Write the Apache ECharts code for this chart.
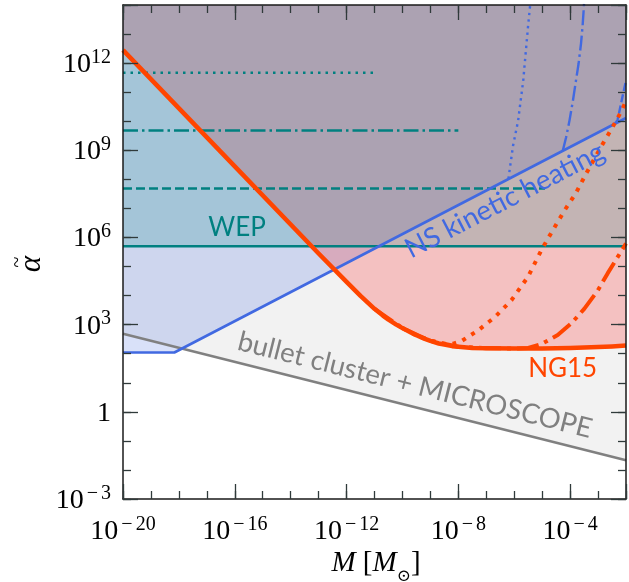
<!DOCTYPE html>
<html>
<head>
<meta charset="utf-8">
<script src="https://cdn.jsdelivr.net/npm/echarts@6/dist/echarts.min.js"></script>
<style>
  html, body { margin: 0; padding: 0; background: #fff; }
  #chart { width: 629px; height: 582px; }
</style>
</head>
<body>
<div id="chart"></div>
<script>
// Axis extents (solar masses, alpha-tilde)
const massRange = [1e-20, 1e-2];
const alphaRange = [1e-3, 1e14];

// Bullet cluster + MICROSCOPE bound
const bulletM = [1e-20, 1e-2];
const bulletA = [490, 0.0214];

// Neutron-star kinetic heating bound
const nsM = [1e-20, 6.9e-19, 1e-2];
const nsA = [110, 110, 1.29e10];
// NS heating variants (branching off the main bound)
const nsDotM = [6.2e-7, 9.1e-7, 1.38e-6, 2.1e-6, 3.1e-6, 3.7e-6, 4.0e-6];
const nsDotA = [1.05e8, 1.45e9, 1.05e10, 2.5e11, 1.7e13, 9.5e13, 2e14];
const nsDashDotM = [5.5e-5, 7.2e-5, 9.5e-5, 1.26e-4, 1.62e-4, 2.0e-4, 2.45e-4, 2.8e-4, 3.1e-4, 3.24e-4];
const nsDashDotA = [9.8e8, 2.8e9, 1.05e10, 5.1e10, 2.5e11, 9.3e11, 4.6e12, 1.95e13, 8.3e13, 2e14];
const nsDashM = [3.98e-3, 5.0e-3, 6.3e-3, 7.9e-3, 1e-2];
const nsDashA = [8.1e9, 1.12e10, 3.2e10, 8.9e10, 2.5e11];

// Weak equivalence principle bounds
const wepM = [1e-20, 1e-2];
const wepA = [5.0e5, 5.0e5];
const wepDashM = [1e-20, 1.26e-5];
const wepDashA = [4.8e7, 4.8e7];
const wepDashDotM = [1e-20, 1e-8];
const wepDashDotA = [4.8e9, 4.8e9];
const wepDotM = [1e-20, 1.15e-11];
const wepDotA = [4.7e11, 4.7e11];

// NANOGrav 15-year bound and its variants
const ng15M = [1e-20, 1e-16, 1e-13, 1e-12, 3.16e-12, 1e-11, 2e-11, 3.16e-11, 6e-11, 1e-10, 2e-10, 3.16e-10, 6e-10, 1e-9, 2e-9, 3.16e-9, 6e-9, 1e-8, 3.16e-8, 1e-7, 1e-6, 1e-5, 1e-4, 1e-3, 3.16e-3, 1e-2];
const ng15A = [2.8e12, 2.8e8, 2.8e5, 2.95e4, 9.8e3, 3.5e3, 2.05e3, 1.48e3, 1.0e3, 760, 540, 430, 330, 275, 225, 205, 182, 174, 158, 155, 151, 151, 158, 170, 178, 190];
const ng15DotM = [1e-10, 3.16e-10, 1e-9, 3.16e-9, 6.3e-9, 1.32e-8, 5.2e-8, 2.04e-7, 7.9e-7, 3.1e-6, 9.3e-6, 1.62e-5, 6.3e-5, 1.62e-4, 3.7e-4, 1.26e-3, 3.3e-3, 7.6e-3, 1e-2];
const ng15DotA = [760, 427, 282, 219, 219, 275, 646, 1820, 6900, 4.4e4, 3.6e5, 9.3e5, 8.5e6, 3.4e7, 1.55e8, 1.29e9, 6.2e9, 2.7e10, 5.1e10];
const ng15DashDotM = [1e-11, 1e-10, 1e-9, 1e-8, 1e-7, 1e-6, 3.16e-6, 9.3e-6, 3.6e-5, 1.1e-4, 3.2e-4, 9.8e-4, 2.2e-3, 5.0e-3, 1e-2];
const ng15DashDotA = [3.5e3, 760, 275, 174, 155, 151, 158, 214, 437, 1.1e3, 3.5e3, 1.5e4, 5.8e4, 2.1e5, 6.2e5];

// Tick spacing in decades
const xMajorStep = 4, yMajorStep = 3;

const TEAL = '#008080', BLUE = '#4169e1', ORANGE = '#ff4500', GRAY = '#808080';
const SERIF = '"Liberation Serif", "DejaVu Serif", serif';
const SANS = 'Lato, "Open Sans", sans-serif';

const lg = Math.log10;
const pts = (ms, as) => ms.map((m, i) => [lg(m), lg(as[i])]);
const xMin = lg(massRange[0]), xMax = lg(massRange[1]);
const yMin = lg(alphaRange[0]), yMax = lg(alphaRange[1]);

const tickRich = {
  b: { fontFamily: SERIF, fontSize: 28, color: '#000', lineHeight: 31, verticalAlign: 'bottom' },
  s: { fontFamily: SERIF, fontSize: 20, color: '#000', lineHeight: 16, verticalAlign: 'top' },
  m: { fontFamily: SERIF, fontSize: 20, color: '#000', lineHeight: 16, verticalAlign: 'top', padding: [0, 3, 0, 3] }
};
function powLabel(v) {
  if (Math.abs(v) < 1e-9) return '{b|1}';
  const e = Math.round(v);
  return e < 0 ? '{b|10}{m|\u2212}{s|' + (-e) + '}' : '{b|10}{s|' + e + '}';
}

function axis(dim, position, step, tickLen, showLine, labelFn, margin) {
  const isX = dim === 'x';
  return {
    type: 'value', position,
    min: isX ? xMin : yMin, max: isX ? xMax : yMax,
    interval: step, z: 10,
    axisLine: { show: showLine, onZero: false, lineStyle: { color: '#1a1a1a', width: 1.5 } },
    axisTick: { show: true, inside: true, length: tickLen, lineStyle: { color: '#2f3a3a', width: 1.3 } },
    axisLabel: {
      show: !!labelFn, margin: margin || 8,
      formatter: labelFn || undefined, rich: tickRich
    },
    splitLine: { show: false }
  };
}
const xLabel = v => (Math.round(v) % xMajorStep === 0 ? powLabel(v) : '');
const yLabel = v => (Math.round(v) % yMajorStep === 0 ? powLabel(v) : '');

function fill(data, color) {
  return { type: 'line', data, symbol: 'none', silent: true, z: 1,
    lineStyle: { width: 0, opacity: 0 }, areaStyle: { color, origin: 'end', opacity: 1 } };
}
function curve(data, color, width, type) {
  return { type: 'line', data, symbol: 'none', silent: true, z: 3, smooth: false,
    lineStyle: { color, width, type, cap: 'butt', join: 'round' } };
}

const chart = echarts.init(document.getElementById('chart'), null, { renderer: 'canvas' });
chart.setOption({
  animation: false,
  backgroundColor: '#fff',
  grid: { left: 123, right: 1, top: 5, bottom: 83 },
  xAxis: [
    axis('x', 'bottom', xMajorStep, 15, true, xLabel, 16),
    axis('x', 'bottom', 1, 8, false, null),
    axis('x', 'top', xMajorStep, 15, true, null),
    axis('x', 'top', 1, 8, false, null)
  ],
  yAxis: [
    axis('y', 'left', yMajorStep, 15, true, yLabel, 12),
    axis('y', 'left', 1, 8, false, null),
    axis('y', 'right', yMajorStep, 15, true, null),
    axis('y', 'right', 1, 8, false, null)
  ],
  series: [
    fill(pts(bulletM, bulletA), 'rgba(128,128,128,0.1)'),
    fill(pts(nsM, nsA), 'rgba(65,105,225,0.2)'),
    fill(pts(ng15M, ng15A), 'rgba(255,0,0,0.2)'),
    fill(pts(wepM, wepA), 'rgba(0,128,128,0.2)'),

    curve(pts(wepM, wepA), TEAL, 2.5, 'solid'),
    curve(pts(wepDashM, wepDashA), TEAL, 2.5, [9, 4]),
    curve(pts(wepDashDotM, wepDashDotA), TEAL, 2.5, [15, 4, 2.5, 4]),
    curve(pts(wepDotM, wepDotA), TEAL, 2.5, [2.5, 5]),

    curve(pts(bulletM, bulletA), GRAY, 2.6, 'solid'),

    curve(pts(nsM, nsA), BLUE, 2.6, 'solid'),
    curve(pts(nsDotM, nsDotA), BLUE, 2.4, [2.4, 4.2]),
    curve(pts(nsDashDotM, nsDashDotA), BLUE, 2.4, [15, 4, 2.4, 4]),
    curve(pts(nsDashM, nsDashA), BLUE, 2.4, [8, 3.5]),

    curve(pts(ng15DotM, ng15DotA), ORANGE, 4, [4, 6.6]),
    curve(pts(ng15DashDotM, ng15DashDotA), ORANGE, 4, [22, 6, 4, 6]),
    curve(pts(ng15M, ng15A), ORANGE, 4.5, 'solid')
  ]
});

// Region annotations placed in data coordinates
function at(m, a) { return chart.convertToPixel({ gridIndex: 0 }, [lg(m), lg(a)]); }
function note(text, m, a, color, rotDeg, size) {
  const p = at(m, a);
  return { type: 'text', x: p[0], y: p[1], rotation: rotDeg * Math.PI / 180, z: 20,
    style: { text, fill: color, font: size + 'px ' + SANS, align: 'center', verticalAlign: 'middle' } };
}
const nsAngle = Math.atan(0.517) * 180 / Math.PI;
const bulletAngle = -Math.atan(0.251) * 180 / Math.PI;

const serifTok = { fontFamily: SERIF, fontSize: 29, color: '#000', lineHeight: 32, verticalAlign: 'top' };
chart.setOption({
  graphic: [
    note('WEP', 1.2e-16, 2.1e6, TEAL, 0, 26),
    note('NG15', 5.4e-5, 30, ORANGE, 0, 26),
    note('NS kinetic heating', 4.6e-7, 1.9e7, BLUE, nsAngle, 27.5),
    note('bullet cluster + MICROSCOPE', 2.8e-10, 8.3, GRAY, bulletAngle, 27.5),
    { type: 'text', x: 376, y: 567, z: 20,
      style: { text: '{i|M}{r| [}{i|M}{sub|\u2299}{r|]}', align: 'center', verticalAlign: 'middle',
        fill: '#000',
        rich: {
          i: Object.assign({}, serifTok, { fontStyle: 'italic' }),
          r: serifTok,
          sub: { fontFamily: '"DejaVu Serif", serif', fontSize: 17, color: '#000', lineHeight: 36, verticalAlign: 'bottom' }
        } } },
    { type: 'group', x: 30, y: 264, rotation: Math.PI / 2, z: 20,
      children: [
        { type: 'text', x: 0, y: 2, style: { text: '\u03b1', align: 'center', verticalAlign: 'middle',
            font: 'italic 31px ' + SERIF, fill: '#000' } },
        { type: 'text', x: 2, y: -12, style: { text: '~', align: 'center', verticalAlign: 'middle',
            font: '20px ' + SERIF, fill: '#000' } }
      ] }
  ]
});
</script>
</body>
</html>
